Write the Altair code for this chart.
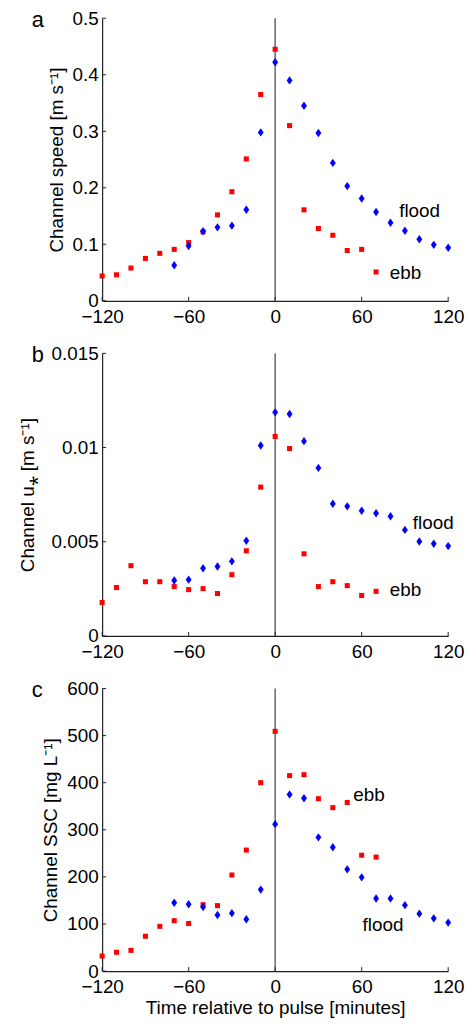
import altair as alt
import pandas as pd

times = list(range(-120, 130, 10))

# panel a: channel speed
a_ebb = [0.044, 0.046, 0.058, 0.075, 0.084, 0.091, 0.103, 0.122, 0.152, 0.193, 0.251,
         0.365, 0.445, 0.310, 0.161, 0.128, 0.116, 0.089, 0.091, 0.051]
a_flood = [0.063, 0.097, 0.123, 0.130, 0.133, 0.161, 0.298, 0.422, 0.390, 0.345, 0.297,
           0.244, 0.203, 0.181, 0.157, 0.138, 0.124, 0.109, 0.099, 0.094]
# panel b: u*
b_ebb = [0.00178, 0.00257, 0.00373, 0.00288, 0.00288, 0.00262, 0.00246, 0.00251, 0.00225,
         0.00325, 0.00452, 0.0079, 0.01059, 0.00995, 0.00436, 0.00262, 0.00288, 0.00267,
         0.00215, 0.00237]
b_flood = [0.00294, 0.00299, 0.00359, 0.00369, 0.00396, 0.00505, 0.01011, 0.01187, 0.01178,
           0.01034, 0.00892, 0.00702, 0.00688, 0.00665, 0.00651, 0.00635, 0.00563, 0.00501,
           0.00489, 0.00477]
# panel c: SSC
c_ebb = [32, 40, 44, 74, 95, 107, 101, 141, 139, 204, 257, 400, 509, 415, 417, 366, 347,
         358, 246, 242]
c_flood = [145, 142, 136, 119, 123, 110, 173, 312, 375, 367, 284, 263, 216, 199, 154, 154,
           140, 122, 112, 103]

ebb_times = times[:20]       # -120 .. 70
flood_times = times[5:]      # -70 .. 120

x_ticks = [-120, -60, 0, 60, 120]
panels = [
    dict(letter="a", ebb=a_ebb, flood=a_flood, ymax=0.5, yticks=[0, 0.1, 0.2, 0.3, 0.4, 0.5],
         title="Channel speed [m s\u207b\u00b9]", tpad=6,
         labels=[("flood", 86, 0.159), ("ebb", 79.5, 0.0485)], xtitle=None),
    dict(letter="b", ebb=b_ebb, flood=b_flood, ymax=0.015, yticks=[0, 0.005, 0.01, 0.015],
         title="Channel u\u204e [m s\u207b\u00b9]", tpad=14,
         labels=[("flood", 95.5, 0.006), ("ebb", 79.5, 0.00243)], xtitle=None),
    dict(letter="c", ebb=c_ebb, flood=c_flood, ymax=600, yticks=[0, 100, 200, 300, 400, 500, 600],
         title="Channel SSC [mg L\u207b\u00b9]", tpad=6,
         labels=[("ebb", 54.2, 373), ("flood", 60.6, 98)],
         xtitle="Time relative to pulse [minutes]"),
]

FONT = "Liberation Sans"
FS = 19
W, H = 349, 285
diamond = "M0,-1L0.7,0L0,1L-0.7,0Z"


def panel(p, first):
    df = pd.DataFrame(
        [{"t": t, "v": v, "s": "ebb"} for t, v in zip(ebb_times, p["ebb"])]
        + [{"t": t, "v": v, "s": "flood"} for t, v in zip(flood_times, p["flood"])]
    )
    xs = alt.Scale(domain=[-120, 120], nice=False, zero=False)
    ys = alt.Scale(domain=[0, p["ymax"]], nice=False)
    common = dict(ticks=False, grid=False, labelFlush=False, labelOverlap=False,
                  labelBound=False)
    if p["xtitle"]:
        xaxis = alt.Axis(values=x_ticks, labelPadding=7, title=p["xtitle"], titlePadding=2,
                         **common)
    else:
        xaxis = alt.Axis(values=x_ticks, labelPadding=7, title=None, **common)
    yaxis = alt.Axis(values=p["yticks"], labelPadding=4, format="~r",
                     title=p["title"], titlePadding=p["tpad"], **common)
    base = alt.Chart(df)
    vline = alt.Chart(pd.DataFrame({"t": [0]})).mark_rule(color="#707070", strokeWidth=1.6).encode(
        x=alt.X("t:Q", scale=xs, axis=xaxis), y=alt.value(0), y2=alt.value(H))
    ebb = base.transform_filter("datum.s == 'ebb'").mark_point(
        shape="square", filled=True, color="#ff0000", size=26, opacity=1).encode(
        x=alt.X("t:Q", scale=xs, axis=xaxis), y=alt.Y("v:Q", scale=ys, axis=yaxis))
    flood = base.transform_filter("datum.s == 'flood'").mark_point(
        shape=diamond, filled=True, color="#0000ff", size=72, opacity=1).encode(
        x=alt.X("t:Q", scale=xs), y=alt.Y("v:Q", scale=ys))
    lab = pd.DataFrame({"txt": [l[0] for l in p["labels"]], "t": [l[1] for l in p["labels"]],
                        "v": [l[2] for l in p["labels"]]})
    labels = alt.Chart(lab).mark_text(align="left", baseline="middle", font=FONT, fontSize=FS,
                                      color="black").encode(
        x=alt.X("t:Q", scale=xs), y=alt.Y("v:Q", scale=ys), text="txt:N")
    xt = alt.Chart(pd.DataFrame({"t": x_ticks})).mark_rule(color="#222222", strokeWidth=1).encode(
        x=alt.X("t:Q", scale=xs), y=alt.value(H), y2=alt.value(H - 4))
    yt = alt.Chart(pd.DataFrame({"v": p["yticks"]})).mark_rule(color="#222222", strokeWidth=1).encode(
        y=alt.Y("v:Q", scale=ys), x=alt.value(0), x2=alt.value(4))
    letter = alt.Chart(pd.DataFrame({"txt": [p["letter"]]})).mark_text(
        align="left", baseline="middle", font=FONT, fontSize=22, color="black").encode(
        x=alt.value(-71), y=alt.value(2), text="txt:N")
    layers = [vline, ebb, flood, labels, xt, yt, letter]
    if first:
        anchor = alt.Chart(pd.DataFrame({"a": [0]})).mark_rule(opacity=0).encode(
            x=alt.value(-103), y=alt.value(-14), y2=alt.value(0))
        layers.append(anchor)
    return alt.layer(*layers).properties(width=W, height=H)


chart = alt.vconcat(*[panel(p, i == 0) for i, p in enumerate(panels)], spacing=53,
                    bounds="flush").properties(
    padding={"left": 0, "top": 0, "right": 5, "bottom": 5}
).configure_view(stroke=None).configure_axis(
    labelFont=FONT, titleFont=FONT, labelFontSize=FS, titleFontSize=FS,
    labelColor="black", titleColor="black", titleFontWeight="normal",
    domainColor="#222222", domainWidth=1.2
)

chart.save("out.html", embed_options={"renderer": "svg", "actions": False})
